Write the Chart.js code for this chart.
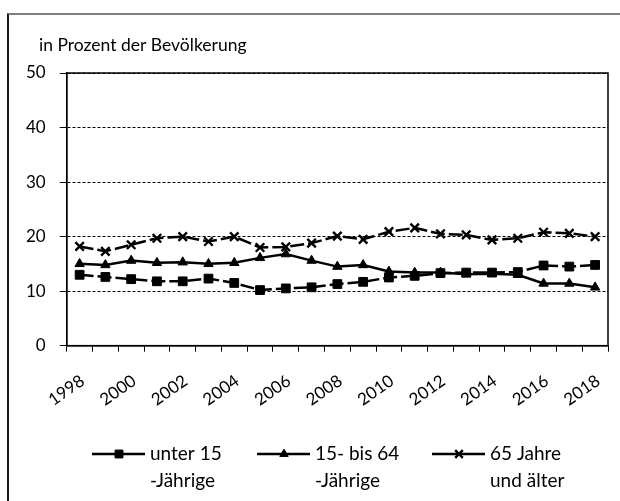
<!DOCTYPE html>
<html><head><meta charset="utf-8">
<script src="https://cdn.jsdelivr.net/npm/chart.js@4/dist/chart.umd.min.js"></script>
<style>
html,body{margin:0;padding:0;background:#fff;}
#wrap{position:relative;width:620px;height:501px;overflow:hidden;}
#frame{position:absolute;left:7px;top:13px;width:700px;height:600px;border-top:2px solid #7f7f7f;border-left:2px solid #1a1a1a;}
canvas{position:absolute;left:0;top:0;}
</style></head><body>
<div id="wrap"><div id="frame"></div><canvas id="c" width="620" height="501"></canvas></div>
<script>
const years = ['1998','1999','2000','2001','2002','2003','2004','2005','2006','2007','2008','2009','2010','2011','2012','2013','2014','2015','2016','2017','2018'];
const under15   = [13.0,12.6,12.2,11.8,11.8,12.3,11.5,10.2,10.5,10.7,11.3,11.7,12.5,12.8,13.3,13.4,13.4,13.5,14.7,14.5,14.8];
const age15to64 = [15.0,14.8,15.6,15.2,15.3,15.0,15.2,16.1,16.8,15.6,14.5,14.8,13.6,13.4,13.4,13.1,13.2,13.0,11.4,11.4,10.7];
const age65plus = [18.2,17.3,18.5,19.7,20.0,19.1,20.0,18.0,18.1,18.8,20.1,19.5,20.9,21.6,20.5,20.3,19.4,19.7,20.8,20.6,20.0];
const seriesLabels = [['unter 15','-Jährige'],['15- bis 64','-Jährige'],['65 Jahre','und älter']];
const axisTitle = 'in Prozent der Bevölkerung';
const yMin = 0, yMax = 50, yStep = 10;

const FONT = 'Lato, "Open Sans", sans-serif';

const decorPlugin = {
  id: 'decor',
  beforeDatasetsDraw(chart) {
    const {ctx, chartArea: a} = chart;
    ctx.save();
    ctx.strokeStyle = '#000';
    ctx.lineWidth = 1.5;
    ctx.strokeRect(a.left, a.top, a.right - a.left, a.bottom - a.top);
    ctx.restore();
  },
  afterDraw(chart) {
    const ctx = chart.ctx;
    ctx.save();
    ctx.fillStyle = '#000';
    ctx.font = '17.5px ' + FONT;
    ctx.textBaseline = 'middle';
    ctx.textAlign = 'left';
    ctx.fillText(axisTitle, 39, 45);
    const starts = [92, 257, 432];
    chart.data.datasets.forEach((ds, i) => {
      const x = starts[i], y = 454;
      ctx.strokeStyle = '#000';
      ctx.lineWidth = 2.5;
      ctx.setLineDash([]);
      ctx.beginPath(); ctx.moveTo(x, y); ctx.lineTo(x + 53, y); ctx.stroke();
      ctx.fillStyle = '#000';
      ctx.lineWidth = ds.pointBorderWidth;
      Chart.helpers.drawPoint(ctx, {pointStyle: ds.pointStyle, radius: ds.pointRadius * 0.9, borderWidth: ds.pointBorderWidth, rotation: 0}, x + 27, y);
      ctx.fillStyle = '#000';
      ctx.font = '19px ' + FONT;
      ctx.textBaseline = 'middle';
      ctx.fillText(seriesLabels[i][0], x + 58, 454);
      ctx.fillText(seriesLabels[i][1], x + 58, 481);
    });
    ctx.restore();
  }
};

new Chart(document.getElementById('c'), {
  type: 'line',
  data: {
    labels: years,
    datasets: [
      {label: seriesLabels[0].join(' '), data: under15, borderColor: '#000', backgroundColor: '#000', borderWidth: 2.5, borderDash: [14, 4],
       pointStyle: 'rect', pointRadius: 6.2, pointBackgroundColor: '#000', pointBorderColor: '#000', pointBorderWidth: 1, tension: 0},
      {label: seriesLabels[1].join(' '), data: age15to64, borderColor: '#000', backgroundColor: '#000', borderWidth: 2.5,
       pointStyle: 'triangle', pointRadius: 5.4, pointBackgroundColor: '#000', pointBorderColor: '#000', pointBorderWidth: 1, tension: 0},
      {label: seriesLabels[2].join(' '), data: age65plus, borderColor: '#000', backgroundColor: '#000', borderWidth: 2.5, borderDash: [14, 4],
       pointStyle: 'crossRot', pointRadius: 6, pointBackgroundColor: '#000', pointBorderColor: '#000', pointBorderWidth: 2.4, tension: 0}
    ]
  },
  options: {
    responsive: false,
    animation: false,
    devicePixelRatio: 1,
    layout: {padding: {left: 12, right: 12, top: 73, bottom: 72}},
    plugins: {legend: {display: false}, title: {display: false}, tooltip: {enabled: false}},
    scales: {
      x: {
        type: 'category',
        offset: true,
        afterFit: (s) => { s.paddingLeft = 0; s.paddingRight = 0; },
        grid: {offset: true, drawOnChartArea: false, drawTicks: true, tickLength: 6, color: '#000', lineWidth: 1},
        border: {display: true, color: '#000', width: 1.5},
        ticks: {autoSkip: false, maxRotation: 35, minRotation: 35, padding: 19, labelOffset: 3, color: '#000',
                font: {family: FONT, size: 17},
                callback: (v, i) => (i % 2 === 0 ? years[i] : '')}
      },
      y: {
        min: yMin, max: yMax,
        grid: {color: '#000', lineWidth: 1, drawTicks: true, tickLength: 7, tickBorderDash: []},
        border: {display: true, color: '#000', width: 1.5, dash: [3, 2]},
        ticks: {stepSize: yStep, padding: 14, color: '#000', font: {family: FONT, size: 17}}
      }
    }
  },
  plugins: [decorPlugin]
});
</script>
</body></html>
